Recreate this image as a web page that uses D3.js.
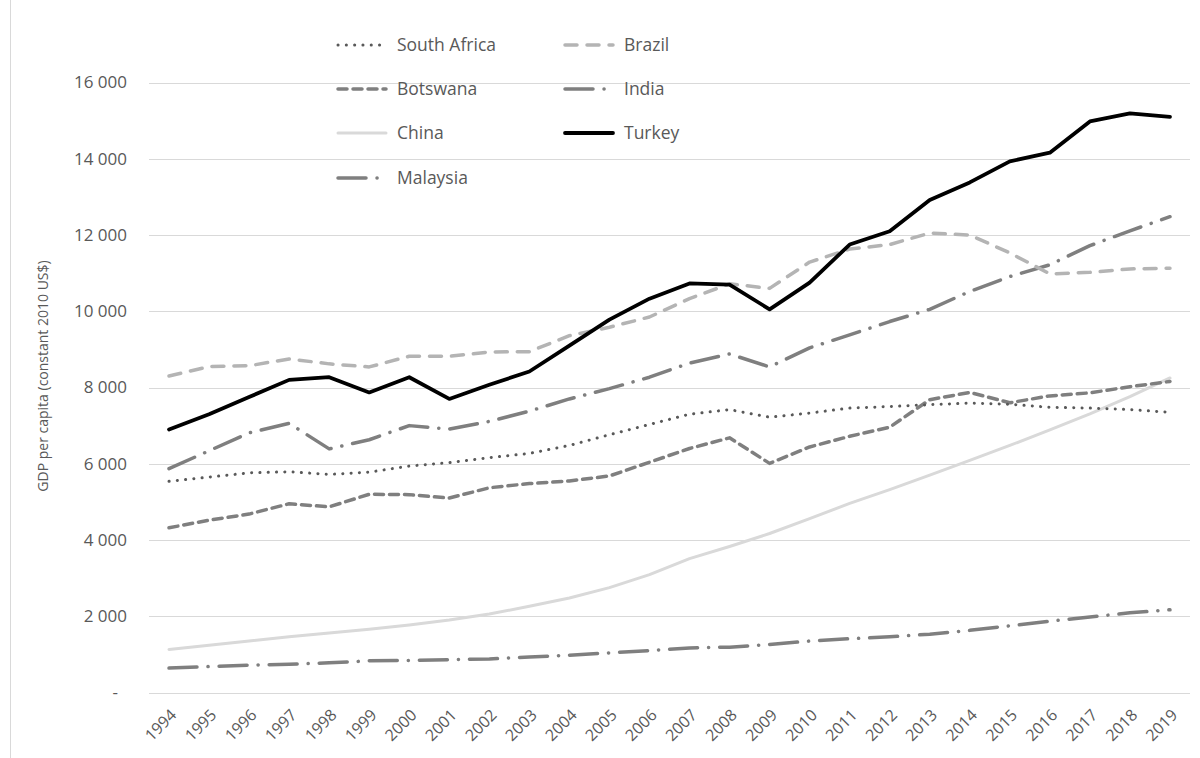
<!DOCTYPE html>
<html>
<head>
<meta charset="utf-8">
<script src="https://cdn.jsdelivr.net/npm/d3@7"></script>
<style>
  html, body { margin: 0; padding: 0; background: #fff; }
  svg text { font-family: "Open Sans", "Noto Sans", sans-serif; fill: #595959; }
</style>
</head>
<body>
<svg id="chart" width="1200" height="758"></svg>
<script>
const years = d3.range(1994, 2020).map(String);

const southAfrica = [5540,5650,5760,5790,5720,5780,5940,6030,6160,6270,6480,6760,7030,7300,7420,7220,7330,7460,7500,7550,7590,7560,7480,7460,7420,7350];
const brazil      = [8300,8550,8570,8750,8620,8540,8820,8820,8930,8940,9360,9580,9850,10330,10720,10600,11290,11630,11750,12050,12000,11530,10980,11020,11110,11130];
const botswana    = [4320,4520,4680,4950,4870,5200,5190,5100,5370,5480,5550,5680,6040,6400,6680,6010,6440,6720,6960,7680,7870,7600,7780,7860,8020,8160];
const india       = [640,680,720,740,780,830,840,860,880,930,980,1040,1100,1170,1190,1260,1350,1410,1460,1530,1630,1750,1870,1980,2090,2170];
const china       = [1130,1240,1350,1460,1560,1660,1770,1900,2060,2260,2480,2750,3090,3510,3830,4170,4560,4960,5320,5700,6090,6480,6890,7310,7760,8250];
const turkey      = [6900,7300,7750,8200,8270,7870,8270,7700,8070,8420,9100,9780,10330,10730,10700,10050,10750,11750,12100,12920,13380,13930,14160,14980,15190,15100];
const malaysia    = [5870,6340,6810,7060,6390,6630,7000,6910,7110,7380,7700,7970,8270,8640,8880,8540,9040,9380,9730,10050,10520,10910,11220,11720,12110,12480];

const seriesNames = ["South Africa","Brazil","Botswana","India","China","Turkey","Malaysia"];
const seriesValues = [southAfrica, brazil, botswana, india, china, turkey, malaysia];
const yTicks = [0,2000,4000,6000,8000,10000,12000,14000,16000];
const yTitle = "GDP per capita (constant 2010 US$)";

// styles (kept separate from data)
const styles = {
  "South Africa": { color: "#595959", width: 3,   dash: "0.1,8.2", cap: "round" },
  "Brazil":       { color: "#b4b4b4", width: 3.5, dash: "12,10",   cap: "round" },
  "Botswana":     { color: "#7f7f7f", width: 3.5, dash: "9,6",     cap: "round" },
  "India":        { color: "#7f7f7f", width: 3.5, dash: "28,11,0.1,11", cap: "round" },
  "China":        { color: "#d9d9d9", width: 3,   dash: null,      cap: "round" },
  "Turkey":       { color: "#000000", width: 3.8, dash: null,      cap: "round" },
  "Malaysia":     { color: "#7f7f7f", width: 3.5, dash: "28,11,0.1,11", cap: "round" }
};
const drawOrder = ["China","India","Botswana","South Africa","Malaysia","Brazil","Turkey"];

const svg = d3.select("#chart");

// outer border
svg.append("rect").attr("x", 10.5).attr("y", -1).attr("width", 1200).attr("height", 770)
  .attr("fill", "none").attr("stroke", "#d9d9d9").attr("stroke-width", 1);

const x = d3.scalePoint().domain(years).range([149, 1190]).padding(0.5);
const y = d3.scaleLinear().domain([0, 16000]).range([692.5, 82.5]);

const fmt = v => v === 0 ? "-" : d3.format(",")(v).replace(/,/g, " ");

// gridlines
svg.append("g").selectAll("line").data(yTicks).join("line")
  .attr("x1", 149).attr("x2", 1190)
  .attr("y1", d => Math.round(y(d)) + 0.5).attr("y2", d => Math.round(y(d)) + 0.5)
  .attr("stroke", "#d9d9d9").attr("stroke-width", 1);

// y axis
const yAxis = d3.axisLeft(y).tickValues(yTicks).tickFormat(fmt).tickSize(0).tickPadding(0);
const gy = svg.append("g").attr("transform", "translate(127,0)").call(yAxis);
gy.select(".domain").remove();
gy.selectAll("text").attr("font-size", 17).attr("font-family", "'Open Sans', sans-serif").attr("fill", "#595959");
gy.selectAll("text").filter(d => d === 0).attr("dx", -9);

// x axis
const xAxis = d3.axisBottom(x).tickSize(0).tickPadding(0);
const gx = svg.append("g").attr("transform", "translate(0,692)").call(xAxis);
gx.select(".domain").remove();
gx.selectAll("text")
  .attr("font-size", 16).attr("font-family", "'Open Sans', sans-serif").attr("fill", "#595959")
  .attr("text-anchor", "end").attr("dy", null).attr("y", 0)
  .attr("transform", "translate(8,24) rotate(-45)");

// y title
svg.append("text").attr("transform", "translate(48,376) rotate(-90)")
  .attr("text-anchor", "middle").attr("font-size", 14).text(yTitle);

// lines
const line = d3.line().x((d, i) => x(years[i])).y(d => y(d)).curve(d3.curveLinear);
drawOrder.forEach(name => {
  const idx = seriesNames.indexOf(name);
  const s = styles[name];
  svg.append("path").datum(seriesValues[idx])
    .attr("d", line).attr("fill", "none")
    .attr("stroke", s.color).attr("stroke-width", s.width)
    .attr("stroke-linecap", s.cap).attr("stroke-linejoin", "round")
    .attr("stroke-dasharray", s.dash);
});

// legend
const legendCols = [338, 565];
const legendRows = [45, 89, 133, 178];
seriesNames.forEach((name, i) => {
  const col = i % 2, row = Math.floor(i / 2);
  const lx = legendCols[col], ly = legendRows[row];
  const s = styles[name];
  svg.append("line").attr("x1", lx).attr("x2", lx + 48).attr("y1", ly).attr("y2", ly)
    .attr("stroke", s.color).attr("stroke-width", s.width)
    .attr("stroke-linecap", s.cap).attr("stroke-dasharray", s.dash);
  svg.append("text").attr("x", lx + 59).attr("y", ly).attr("dy", "0.35em")
    .attr("font-size", 17.5).text(name);
});
</script>
</body>
</html>
